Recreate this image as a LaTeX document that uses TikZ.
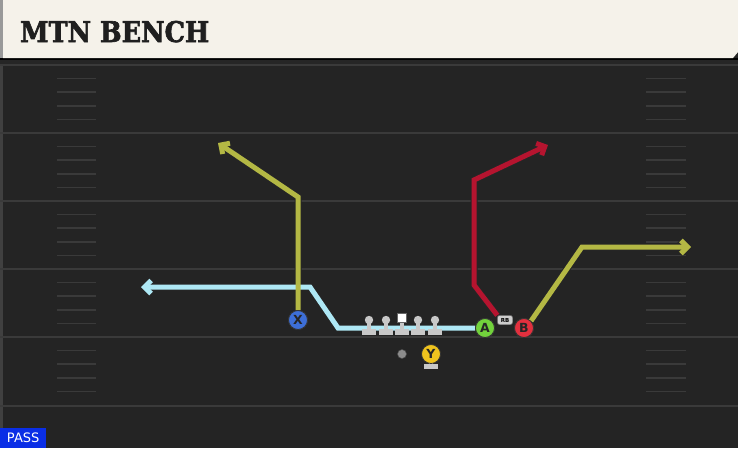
\documentclass[tikz,border=0pt]{standalone}
\usepackage{fontspec}
\setmainfont{DejaVu Sans}
\newfontfamily\titlefont[FakeBold=2.2]{DejaVu Serif Condensed Bold}
\usetikzlibrary{arrows.meta}
\definecolor{field}{HTML}{242424}
\definecolor{yardline}{HTML}{3A3A3A}
\definecolor{hashc}{HTML}{3A3A3A}
\definecolor{cream}{HTML}{F5F2EA}
\definecolor{routey}{HTML}{B4B844}
\definecolor{routeb}{HTML}{AEE8F5}
\definecolor{router}{HTML}{B5142F}
\definecolor{xblue}{HTML}{3D6FD8}
\definecolor{agreen}{HTML}{72D23C}
\definecolor{bred}{HTML}{E2303E}
\definecolor{yyel}{HTML}{F0C41E}
\definecolor{linec}{HTML}{C8C8C8}
\definecolor{passblue}{HTML}{0A2EE6}
\tikzset{
  player/.style={circle,draw=black!80,line width=0.8pt,minimum size=19pt,inner sep=0pt,font=\bfseries\fontsize{12.5}{12.5}\selectfont,text=black!85},
  rbtag/.style={draw=black!70,fill=linec!90,rounded corners=2pt,inner sep=1pt,minimum width=15pt,minimum height=9pt,font=\bfseries\fontsize{5.5}{5.5}\selectfont},
  outl/.style={draw=black!85,line width=7pt,line join=miter},
  rte/.style={line width=5pt,line join=miter},
  tipo/.style={-{Straight Barb[length=6.5pt,width=13pt]}},
  tipi/.style={-{Straight Barb[length=6.5pt,width=13pt]}},
  hashm/.style={draw=hashc,line width=1.6pt},
  yline/.style={draw=yardline,line width=1.8pt},
}
\begin{document}
\begin{tikzpicture}[x=1pt,y=-1pt]
\useasboundingbox (0,0) rectangle (738,448);
\fill[field] (0,0) rectangle (738,448);
\fill[black!75] (0,64) rectangle (3,448);
% yard lines
\foreach \yy in {65,133,201,269,337,406} \draw[yline] (0,\yy) -- (738,\yy);
% hash marks
\foreach \k in {1,2,3,4,6,7,8,9,11,12,13,14,16,17,18,19,21,22,23,24} {
  \pgfmathsetmacro\hy{65+\k*13.6}
  \draw[hashm] (57,\hy) -- (96,\hy);
  \draw[hashm] (646,\hy) -- (686,\hy);
}
% header
\fill[black!85] (0,58) rectangle (738,64);
\fill[black] (0,58) rectangle (738,59.5);
\fill[black!40] (0,0) rectangle (3,58);
\fill[cream] (3,0) -- (738,0) -- (738,52) -- (733,58) -- (3,58) -- cycle;
\node[anchor=base west,inner sep=0pt,font=\titlefont\fontsize{28.5}{28.5}\selectfont,text=black!88] (title) at (20,42) {MTN BENCH};
% players
\node[player,fill=xblue] (X) at (298,320) {X};
\node[player,fill=agreen] (A) at (485,328) {A};
\node[player,fill=bred] (B) at (524,328) {B};
\node[rbtag] (RB) at (505,320) {RB};
% route waypoints
\coordinate (x1) at (298,197);
\coordinate (xe) at (218,143);
\coordinate (a1) at (338,328);
\coordinate (a2) at (310,287);
\coordinate (ae) at (141,287);
\coordinate (r1) at (474,285);
\coordinate (r2) at (474,180);
\coordinate (re) at (548,145);
\coordinate (b1) at (582,247);
\coordinate (be) at (691,247);
% outlines
\draw[outl,tipo] (A.west) -- (a1) -- (a2) -- (ae);
\draw[outl,tipo] (RB.north west) -- (r1) -- (r2) -- (re);
\draw[outl,tipo] (B.north east) -- (b1) -- (be);
\draw[outl,tipo] (X.north) -- (x1) -- (xe);
% colored routes
\draw[rte,routeb,tipi] (A.west) -- (a1) -- (a2) -- (ae);
\draw[rte,router,tipi] (RB.north west) -- (r1) -- (r2) -- (re);
\draw[rte,routey,tipi] (B.north east) -- (b1) -- (be);
\draw[rte,routey,tipi] (X.north) -- (x1) -- (xe);
% redraw players on top
\node[player,fill=xblue] at (X) {X};
\node[player,fill=agreen] at (A) {A};
\node[player,fill=bred] at (B) {B};
\node[rbtag] at (RB) {RB};
% linemen
\foreach \lx in {369,386,418,435} {
  \fill[linec] (\lx-2,321) rectangle (\lx+2,330);
  \fill[linec] (\lx-7,329) rectangle (\lx+7,335);
  \fill[linec] (\lx,320) circle (4.2pt);
}
\fill[linec] (400,321) rectangle (404,330);
\fill[linec] (395,329) rectangle (409,335);
\node[fill=white,draw=black!60,line width=0.4pt,minimum size=9pt,inner sep=0pt] (C) at (402,318) {};
% QB dot and Y
\node[circle,fill=black!45,draw=black!70,line width=0.5pt,minimum size=9pt,inner sep=0pt] (QB) at (402,354) {};
\fill[linec] (424,364) rectangle (438,369);
\fill[linec] (429,360) rectangle (433,365);
\node[player,fill=yyel] (Y) at (431,354) {Y};
% PASS tag
\node[fill=passblue,anchor=south west,minimum width=46pt,minimum height=20pt,inner sep=0pt,text=white,font=\fontsize{13}{13}\selectfont] (pass) at (0,448) {PASS};
\end{tikzpicture}
\end{document}
